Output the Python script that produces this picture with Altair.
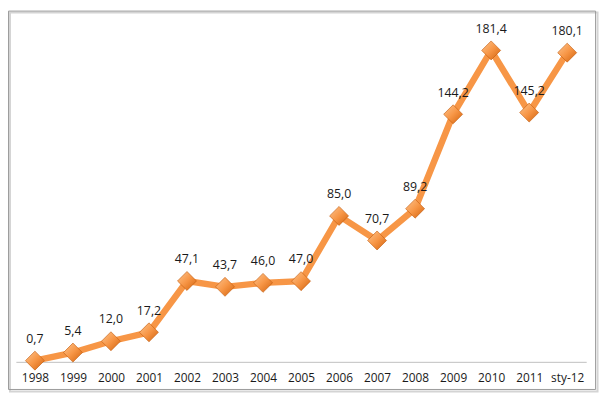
import altair as alt
import pandas as pd

years = ["1998", "1999", "2000", "2001", "2002", "2003", "2004", "2005",
         "2006", "2007", "2008", "2009", "2010", "2011", "sty-12"]
values = [0.7, 5.4, 12.0, 17.2, 47.1, 43.7, 46.0, 47.0,
          85.0, 70.7, 89.2, 144.2, 181.4, 145.2, 180.1]

df = pd.DataFrame({"year": years, "value": values})
df["label"] = [f"{v:.1f}".replace(".", ",") for v in values]

FONT = "Open Sans"

x = alt.X("year:N", sort=years,
          axis=alt.Axis(title=None, labelAngle=0, ticks=False, domainColor="#bfbfbf",
                        domainWidth=1, labelFont=FONT, labelFontSize=12,
                        labelColor="#1a1a1a", labelPadding=11))
y = alt.Y("value:Q", scale=alt.Scale(domain=[0, 200]), axis=None)

base = alt.Chart(df).encode(x=x, y=y)

line = base.mark_line(color="#F79646", strokeWidth=6.5, strokeJoin="miter")

grad = alt.Gradient(gradient="linear", x1=0, y1=0, x2=1, y2=1,
                    stops=[alt.GradientStop(offset=0, color="#FDC48E"),
                           alt.GradientStop(offset=0.5, color="#F79646"),
                           alt.GradientStop(offset=1, color="#D2620C")])
points = base.mark_point(shape="diamond", size=370, filled=True, fill=grad,
                         opacity=1, stroke="#C0590A", strokeWidth=0.6)

text = base.mark_text(dy=-22, font=FONT, fontSize=12.5, color="#1a1a1a").encode(text="label:N")

frame_data = alt.Data(values=[{"a": 1}])
shadow = alt.Chart(frame_data).mark_rect(fill=None, stroke="#d4d4d4", strokeWidth=2).encode(
    x=alt.value(-6), x2=alt.value(589.5), y=alt.value(-6), y2=alt.value(378))
frame = alt.Chart(frame_data).mark_rect(fill=None, stroke="#9a9a9a", strokeWidth=1).encode(
    x=alt.value(-7.5), x2=alt.value(587.5), y=alt.value(-7.5), y2=alt.value(376))

chart = alt.layer(shadow, frame, line, points, text).properties(
    width=578, height=348,
    padding={"left": 0, "top": 0, "right": 2, "bottom": 2},
    background="white",
).configure_view(stroke=None)

chart.save("out.html", embed_options={"renderer": "svg", "actions": False})
